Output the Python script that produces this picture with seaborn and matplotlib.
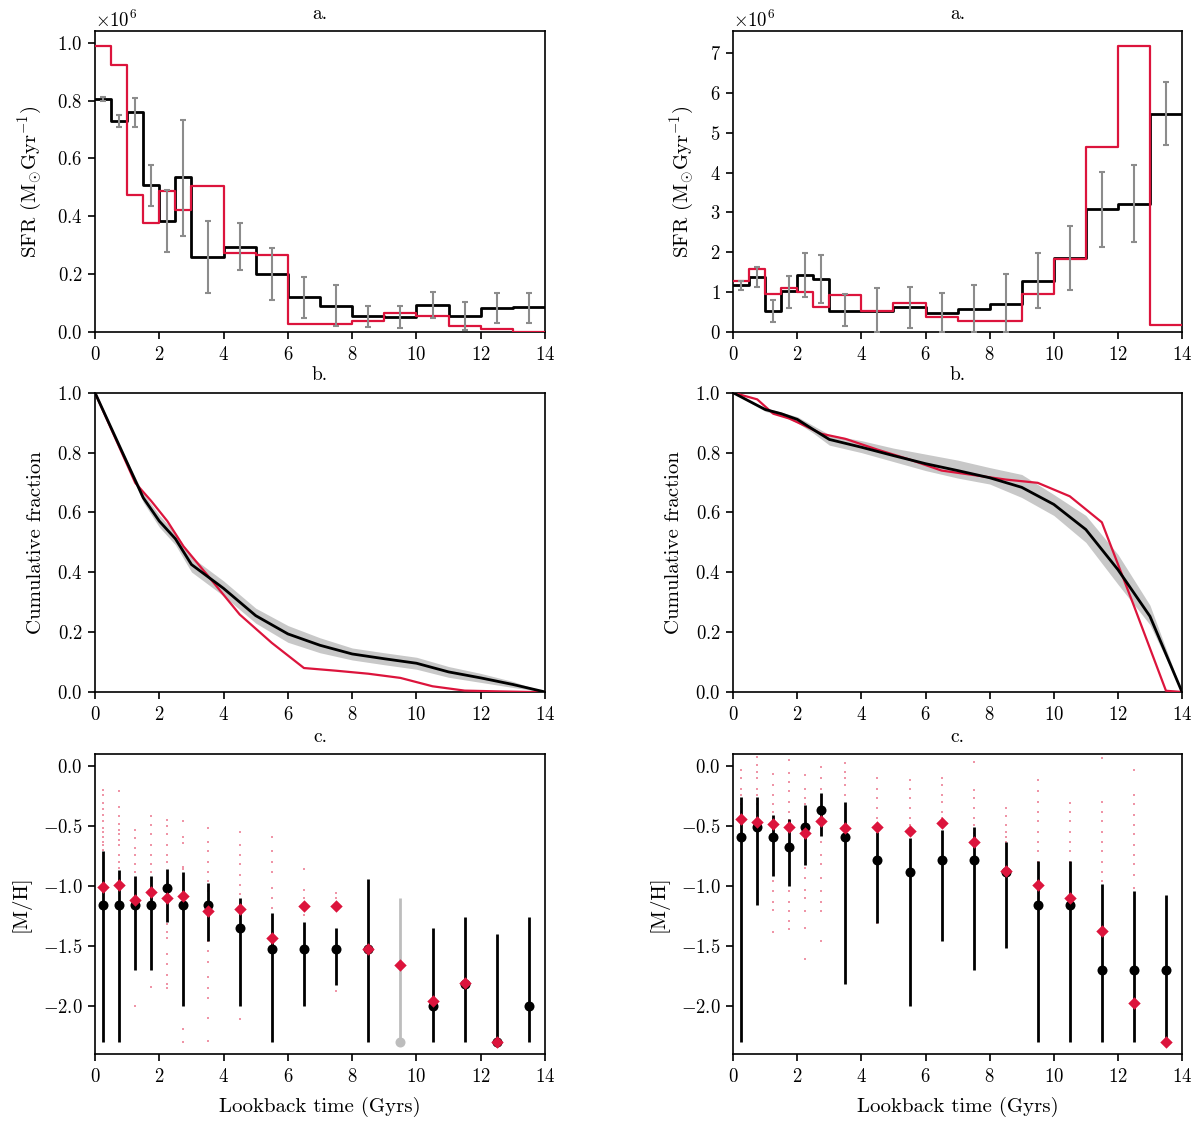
import numpy as np
import pandas as pd
import matplotlib
matplotlib.use("Agg")
import matplotlib.pyplot as plt
import seaborn as sns

# ---------------- data ----------------
edges = [0, 0.5, 1, 1.5, 2, 2.5, 3, 4, 5, 6, 7, 8, 9, 10, 11, 12, 13, 14]
centers = [0.25, 0.75, 1.25, 1.75, 2.25, 2.75, 3.5, 4.5, 5.5, 6.5, 7.5, 8.5, 9.5, 10.5, 11.5, 12.5, 13.5]

# SFR (units of 1e6)
sfr_black_L = [0.805, 0.728, 0.759, 0.508, 0.384, 0.534, 0.261, 0.294, 0.199, 0.120, 0.091, 0.054, 0.052, 0.094, 0.056, 0.084, 0.085]
sfr_hi_L = [0.813, 0.749, 0.807, 0.578, 0.492, 0.734, 0.384, 0.378, 0.292, 0.190, 0.161, 0.090, 0.089, 0.140, 0.103, 0.136, 0.136]
sfr_lo_L = [0.799, 0.707, 0.709, 0.434, 0.276, 0.332, 0.136, 0.213, 0.109, 0.048, 0.022, 0.018, 0.014, 0.048, 0.008, 0.030, 0.032]
sfr_red_L = [0.989, 0.922, 0.474, 0.377, 0.489, 0.420, 0.503, 0.274, 0.267, 0.029, 0.029, 0.037, 0.066, 0.055, 0.021, 0.011, 0.0]

sfr_black_R = [1.18, 1.39, 0.525, 1.02, 1.43, 1.34, 0.54, 0.53, 0.625, 0.49, 0.575, 0.70, 1.28, 1.85, 3.08, 3.22, 5.46]
sfr_hi_R = [1.28, 1.62, 0.81, 1.41, 1.98, 1.92, 0.96, 1.11, 1.13, 0.98, 1.18, 1.45, 1.98, 2.65, 4.01, 4.18, 6.26]
sfr_lo_R = [1.06, 1.14, 0.26, 0.61, 0.89, 0.74, 0.14, 0.0, 0.10, 0.0, 0.0, 0.0, 0.60, 1.06, 2.14, 2.25, 4.68]
sfr_red_R = [1.28, 1.575, 0.95, 1.10, 1.0, 0.63, 0.92, 0.53, 0.725, 0.37, 0.27, 0.27, 0.95, 1.83, 4.63, 7.18, 0.17]

# Cumulative fractions
cum_black_L = [1.0, 0.883, 0.766, 0.649, 0.571, 0.512, 0.426, 0.346, 0.255, 0.194, 0.156, 0.127, 0.111, 0.096, 0.067, 0.047, 0.025, 0.0]
cum_up_L = [1.0, 0.885, 0.772, 0.664, 0.591, 0.532, 0.451, 0.371, 0.280, 0.222, 0.181, 0.147, 0.131, 0.116, 0.085, 0.062, 0.035, 0.0]
cum_low_L = [1.0, 0.881, 0.760, 0.634, 0.551, 0.492, 0.401, 0.321, 0.230, 0.166, 0.131, 0.107, 0.091, 0.076, 0.049, 0.032, 0.015, 0.0]
cum_red_x_L = [0, 1.25, 1.75, 2.25, 2.75, 3.5, 4.5, 5.5, 6.5, 7.5, 8.5, 9.5, 10.5, 11.5, 12.5, 13.5, 14]
cum_red_L = [1.0, 0.699, 0.638, 0.571, 0.487, 0.39, 0.259, 0.164, 0.080, 0.071, 0.061, 0.047, 0.019, 0.0045, 0.002, 0.0, 0.0]

cum_black_R = [1.0, 0.972, 0.944, 0.930, 0.911, 0.877, 0.844, 0.818, 0.790, 0.763, 0.740, 0.716, 0.684, 0.627, 0.543, 0.409, 0.253, 0.0]
cum_up_R = [1.0, 0.975, 0.95, 0.935, 0.92, 0.89, 0.86, 0.84, 0.815, 0.795, 0.775, 0.75, 0.727, 0.66, 0.59, 0.46, 0.29, 0.0]
cum_low_R = [1.0, 0.968, 0.938, 0.922, 0.90, 0.865, 0.825, 0.80, 0.77, 0.74, 0.715, 0.695, 0.65, 0.59, 0.50, 0.36, 0.225, 0.0]
cum_red_x_R = [0, 0.75, 1.25, 1.75, 2.25, 2.75, 3.5, 4.5, 5.5, 6.5, 7.5, 8.5, 9.5, 10.5, 11.5, 12.5, 13.5, 14]
cum_red_R = [1.0, 0.978, 0.93, 0.914, 0.889, 0.863, 0.846, 0.81, 0.777, 0.74, 0.725, 0.71, 0.699, 0.654, 0.567, 0.288, 0.004, 0.0]

# Metallicity
mh_black_L = [-1.155, -1.155, -1.155, -1.155, -1.02, -1.155, -1.155, -1.346, -1.524, -1.524, -1.524, -1.524, -2.30, -2.0, -1.82, -2.30, -2.0]
mh_hi_L = [-0.712, -0.87, -0.92, -0.92, -0.856, -0.886, -0.978, -1.10, -1.224, -1.30, -1.346, -0.942, -1.10, -1.346, -1.26, -1.40, -1.26]
mh_lo_L = [-2.30, -2.30, -1.70, -1.70, -1.30, -2.0, -1.454, -2.0, -2.30, -2.0, -1.825, -2.30, -2.30, -2.30, -2.30, -2.30, -2.30]
mh_grey_L = [False, False, False, False, False, False, False, False, False, False, False, False, True, False, False, False, False]
mh_red_L = [-1.011, -0.989, -1.114, -1.053, -1.10, -1.083, -1.21, -1.19, -1.432, -1.163, -1.163, -1.524, -1.654, -1.958, -1.81, -2.30, np.nan]

mh_black_R = [-0.593, -0.504, -0.593, -0.676, -0.504, -0.366, -0.593, -0.78, -0.886, -0.78, -0.78, -0.886, -1.155, -1.155, -1.70, -1.70, -1.70]
mh_hi_R = [-0.255, -0.255, -0.407, -0.44, -0.324, -0.222, -0.302, -0.551, -0.60, -0.532, -0.504, -0.637, -0.795, -0.795, -0.98, -1.044, -1.072]
mh_lo_R = [-2.30, -1.155, -0.92, -0.997, -0.823, -0.582, -1.82, -1.307, -2.0, -1.454, -1.70, -1.52, -2.30, -2.30, -2.30, -2.30, -2.30]
mh_red_R = [-0.443, -0.463, -0.482, -0.507, -0.56, -0.457, -0.518, -0.504, -0.54, -0.471, -0.629, -0.878, -0.992, -1.10, -1.371, -1.978, -2.30]

# individual sample dots (red), per bin centre
dots_L = {
    0.25: [-0.20, -0.24, -0.31, -0.36, -0.41, -0.46, -0.52, -0.55, -0.59, -0.63, -0.66, -0.70],
    0.75: [-0.21, -0.34, -0.42, -0.48, -0.53, -0.57, -0.62, -0.66, -0.74, -0.80, -0.85],
    1.25: [-0.53, -0.60, -0.68, -0.74, -0.82, -0.88, -2.0],
    1.75: [-0.42, -0.49, -0.57, -0.66, -0.74, -0.82, -0.88, -1.84],
    2.25: [-0.45, -0.50, -0.57, -0.66, -0.74, -0.80, -1.32, -1.38, -1.43, -1.57, -1.65, -1.74, -1.82, -1.85],
    2.75: [-0.46, -0.59, -0.64, -0.84, -0.86, -2.19, -2.30],
    3.5: [-0.52, -0.63, -0.71, -0.80, -0.88, -0.96, -1.04, -1.46, -1.54, -1.63, -1.76, -1.85, -1.93, -2.10, -2.29],
    4.5: [-0.55, -0.66, -0.74, -0.82, -0.91, -0.99, -1.07, -2.11],
    5.5: [-0.59, -0.71, -0.80, -0.88, -1.02, -1.10, -1.18],
    6.5: [-0.86, -1.03, -1.10, -1.24],
    7.5: [-1.06, -1.10, -1.875],
}
dots_R = {
    0.25: [-0.033, -0.10, -0.19, -0.24, -0.32, -0.38, -0.42],
    0.75: [0.078, 0.01, -0.05, -0.10, -0.19, -0.24, -0.32, -0.38],
    1.25: [-0.07, -0.16, -0.24, -0.32, -0.38, -0.96, -1.04, -1.13, -1.20, -1.38],
    1.75: [0.05, -0.06, -0.13, -0.21, -0.30, -0.38, -0.45, -1.04, -1.13, -1.21, -1.29, -1.36],
    2.25: [-0.075, -0.19, -0.27, -0.32, -0.85, -0.93, -1.03, -1.10, -1.21, -1.35, -1.61],
    2.75: [-0.006, -0.10, -0.19, -0.63, -0.74, -0.82, -0.93, -1.04, -1.13, -1.21, -1.46],
    3.5: [0.022, -0.05, -0.10, -0.16, -0.24],
    4.5: [-0.10, -0.19, -0.27, -0.35, -0.43, -1.31],
    5.5: [-0.12, -0.19, -0.27, -0.35, -0.43, -0.49],
    6.5: [-0.10, -0.16, -0.24, -0.30, -0.38, -0.43],
    7.5: [0.03, -0.20, -0.27, -0.35, -0.43, -0.49, -0.56],
    8.5: [-0.35, -0.42, -0.49, -0.55, -0.59, -0.63],
    9.5: [-0.12, -0.21, -0.30, -0.38, -0.46, -0.55, -0.63, -0.71, -0.80],
    10.5: [-0.31, -0.38, -0.46, -0.55, -0.63, -0.71, -0.80],
    11.5: [0.064, -0.30, -0.38, -0.46, -0.55, -0.63, -0.71, -0.80, -0.88, -0.96],
    12.5: [-0.033, -0.24, -0.32, -0.41, -0.49, -0.57, -0.66, -0.74, -0.82, -0.91, -1.02],
}

# ---------------- style ----------------
sns.set_theme(style="ticks")
plt.rcParams.update({
    "font.family": ["serif"],
    "font.serif": ["cmr10", "DejaVu Serif"],
    "mathtext.fontset": "cm",
    "axes.formatter.use_mathtext": True,
    "axes.unicode_minus": True,
    "font.size": 13.5,
    "axes.labelsize": 15,
    "axes.titlesize": 14,
    "xtick.labelsize": 13.5,
    "ytick.labelsize": 13.5,
    "axes.edgecolor": "black",
    "axes.linewidth": 1.2,
    "xtick.color": "black",
    "ytick.color": "black",
    "xtick.major.width": 1.2,
    "ytick.major.width": 1.2,
    "xtick.major.size": 5,
    "ytick.major.size": 5,
    "xtick.major.pad": 5,
    "ytick.major.pad": 4,
    "text.color": "black",
    "axes.labelcolor": "black",
})

RED = "#dc143c"
fig = plt.figure(figsize=(12, 11.29), dpi=100)
lefts = [0.0792, 0.611]
widths = [0.375, 0.374]
bottoms = [0.7059, 0.3871, 0.0664]
heights = [0.2666, 0.265, 0.2657]
axes = [[fig.add_axes([lefts[c], bottoms[r], widths[c], heights[r]]) for c in range(2)] for r in range(3)]

# ---------- row 1: SFR ----------
for c, (bk, hi, lo, rd, ymax) in enumerate([
        (sfr_black_L, sfr_hi_L, sfr_lo_L, sfr_red_L, 1.04),
        (sfr_black_R, sfr_hi_R, sfr_lo_R, sfr_red_R, 7.55)]):
    ax = axes[0][c]
    bk = np.array(bk) * 1e6
    hi = np.array(hi) * 1e6
    lo = np.array(lo) * 1e6
    rd = np.array(rd) * 1e6
    sns.lineplot(x=edges, y=np.append(bk, bk[-1]), drawstyle="steps-post", color="black",
                 lw=2.0, estimator=None, sort=False, ax=ax, zorder=3)
    sns.lineplot(x=edges, y=np.append(rd, rd[-1]), drawstyle="steps-post", color=RED,
                 lw=1.6, estimator=None, sort=False, ax=ax, zorder=4)
    ax.errorbar(centers, bk, yerr=[bk - lo, hi - bk], fmt="none", ecolor="#8c8c8c",
                elinewidth=1.5, capsize=2.2, capthick=1.5, zorder=5)
    ax.set_xlim(0, 14)
    ax.set_ylim(0, ymax * 1e6)
    ax.set_title("a.", pad=9)
    ax.set_ylabel(r"SFR $(\mathrm{M_{\odot}Gyr^{-1}})$", labelpad=9)

# ---------- row 2: cumulative ----------
for c, (bk, up, lw_, rx, ry) in enumerate([
        (cum_black_L, cum_up_L, cum_low_L, cum_red_x_L, cum_red_L),
        (cum_black_R, cum_up_R, cum_low_R, cum_red_x_R, cum_red_R)]):
    ax = axes[1][c]
    ax.fill_between(edges, lw_, up, color="#c8c8c8", lw=0, zorder=1)
    sns.lineplot(x=rx, y=ry, color=RED, lw=1.6, estimator=None, sort=False, ax=ax, zorder=3)
    sns.lineplot(x=edges, y=bk, color="black", lw=2.0, estimator=None, sort=False, ax=ax, zorder=4)
    ax.set_xlim(0, 14)
    ax.set_ylim(0, 1.0)
    ax.set_title("b.", pad=9)
    ax.set_ylabel("Cumulative fraction", labelpad=9)

# ---------- row 3: metallicity ----------
for c, (bk, hi, lo, rd, dots) in enumerate([
        (mh_black_L, mh_hi_L, mh_lo_L, mh_red_L, dots_L),
        (mh_black_R, mh_hi_R, mh_lo_R, mh_red_R, dots_R)]):
    ax = axes[2][c]
    dx, dy = [], []
    for k, vals in dots.items():
        dx += [k] * len(vals)
        dy += vals
    sns.scatterplot(x=dx, y=dy, color=RED, s=2.5, marker="s", linewidth=0, alpha=0.45, ax=ax, zorder=1)
    bk = np.array(bk); hi = np.array(hi); lo = np.array(lo)
    grey = np.array(mh_grey_L if c == 0 else [False] * len(bk))
    cx = np.array(centers)
    for mask, col in [(~grey, "black"), (grey, "#bdbdbd")]:
        if mask.any():
            ax.errorbar(cx[mask], bk[mask], yerr=[bk[mask] - lo[mask], hi[mask] - bk[mask]],
                        fmt="none", ecolor=col, elinewidth=2.0, zorder=2)
            sns.scatterplot(x=cx[mask], y=bk[mask], color=col, s=52, linewidth=0, ax=ax, zorder=3)
    sns.scatterplot(x=centers, y=rd, color=RED, marker="D", s=40, linewidth=0, ax=ax, zorder=4)
    ax.set_xlim(0, 14)
    ax.set_ylim(-2.4, 0.1)
    ax.set_yticks([0.0, -0.5, -1.0, -1.5, -2.0])
    ax.set_title("c.", pad=9)
    ax.set_ylabel("[M/H]", labelpad=9)
    ax.set_xlabel("Lookback time (Gyrs)", labelpad=8)

for row in axes:
    for ax in row:
        ax.set_xticks([0, 2, 4, 6, 8, 10, 12, 14])
        ax.tick_params(top=False, right=False, direction="out")
        for s in ax.spines.values():
            s.set_visible(True)
            s.set_color("black")

fig.savefig("out.png", dpi=100)
